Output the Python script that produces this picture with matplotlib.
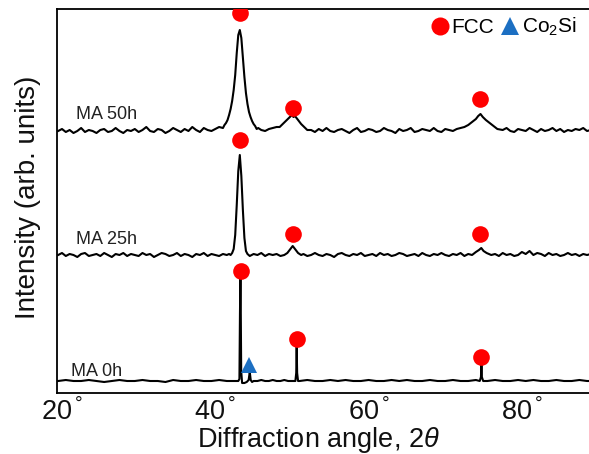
import matplotlib
matplotlib.use("Agg")
import matplotlib.pyplot as plt
from matplotlib.lines import Line2D

plt.rcParams["font.family"] = ["Liberation Sans", "DejaVu Sans"]
plt.rcParams["mathtext.fontset"] = "custom"
plt.rcParams["mathtext.rm"] = "Liberation Sans"
plt.rcParams["mathtext.it"] = "Liberation Sans:italic"

# --- data (2theta in degrees, intensity in arb. units) ---
ma50_angle = [
    19.5, 20.0, 20.5, 21.0, 21.5, 22.0, 22.5, 23.0, 23.5, 24.0,
    24.5, 25.0, 25.5, 26.0, 26.5, 27.0, 27.5, 28.0, 28.5, 29.0,
    29.5, 30.0, 30.5, 31.0, 31.5, 32.0, 32.5, 33.0, 33.5, 34.0,
    34.5, 35.0, 35.5, 36.0, 36.5, 37.0, 37.5, 38.0, 38.5, 39.0,
    39.5, 40.0, 40.5, 41.0,
    41.2, 41.4, 41.6, 41.8, 42.0, 42.2, 42.4, 42.6, 42.8, 43.0,
    43.2, 43.4, 43.6, 43.8, 44.0, 44.2, 44.4, 44.6, 44.8, 45.0,
    45.2, 45.4, 45.6,
    46.0, 46.5, 47.0, 47.5, 48.0,
    48.4, 48.8, 49.2, 49.6, 50.0, 50.2, 50.4, 50.8, 51.2, 51.6, 52.0,
    52.5, 53.0, 53.5, 54.0, 54.5, 55.0, 55.5, 56.0, 56.5, 57.0,
    57.5, 58.0, 58.5, 59.0, 59.5, 60.0, 60.5, 61.0, 61.5, 62.0,
    62.5, 63.0, 63.5, 64.0, 64.5, 65.0, 65.5, 66.0, 66.5, 67.0,
    67.5, 68.0, 68.5, 69.0, 69.5, 70.0, 70.5, 71.0, 71.5, 72.0,
    72.5, 73.0, 73.5, 74.0, 74.3, 74.6, 74.9, 75.3, 75.8, 76.3, 76.8,
    77.5, 78.0, 78.5, 79.0, 79.5, 80.0, 80.5, 81.0, 81.5, 82.0,
    82.5, 83.0, 83.5, 84.0, 84.5, 85.0, 85.5, 86.0, 86.5, 87.0,
    87.5, 88.0, 88.5, 89.0,
]
ma50_counts = [
    262, 264, 261, 263, 260, 262, 265, 261, 263, 262,
    260, 263, 264, 261, 262, 265, 262, 260, 263, 262,
    264, 261, 263, 266, 262, 261, 264, 263, 260, 262,
    265, 263, 261, 264, 262, 266, 263, 261, 265, 263,
    262, 264, 266, 265,
    268, 270, 273, 278, 284, 292, 303, 318, 340, 358,
    363, 355, 336, 316, 300, 289, 281, 276, 272, 269,
    267, 264, 265,
    263, 262, 264, 265, 266,
    266, 269, 272, 275, 278, 276, 277, 273, 269, 266, 263,
    263, 261, 264, 262, 265, 262, 261, 263, 264, 262,
    260, 263, 265, 261, 262, 264, 263, 261, 262, 265,
    263, 262, 260, 264, 262, 263, 265, 261, 262, 264,
    263, 262, 265, 262, 261, 264, 263, 262, 264, 265,
    266, 268, 271, 274, 277, 279, 276, 273, 270, 267, 264,
    263, 265, 262, 261, 264, 263, 262, 265, 263, 261,
    264, 262, 263, 265, 262, 264, 261, 263, 262, 264,
    263, 265, 262, 263,
]

ma25_angle = [
    19.5, 20.0, 20.5, 21.0, 21.5, 22.0, 22.5, 23.0, 23.5, 24.0,
    24.5, 25.0, 25.5, 26.0, 26.5, 27.0, 27.5, 28.0, 28.5, 29.0,
    29.5, 30.0, 30.5, 31.0, 31.5, 32.0, 32.5, 33.0, 33.5, 34.0,
    34.5, 35.0, 35.5, 36.0, 36.5, 37.0, 37.5, 38.0, 38.5, 39.0,
    39.5, 40.0, 40.5, 41.0, 41.5,
    41.8, 42.0, 42.2, 42.4, 42.6, 42.8, 43.0, 43.2, 43.4, 43.6,
    43.8, 44.0, 44.2,
    44.5, 45.0, 45.5, 46.0, 46.5, 47.0, 47.5, 48.0, 48.5, 49.0,
    49.4, 49.8, 50.1, 50.4, 50.8, 51.2,
    51.5, 52.0, 52.5, 53.0, 53.5, 54.0, 54.5, 55.0, 55.5, 56.0,
    56.5, 57.0, 57.5, 58.0, 58.5, 59.0, 59.5, 60.0, 60.5, 61.0,
    61.5, 62.0, 62.5, 63.0, 63.5, 64.0, 64.5, 65.0, 65.5, 66.0,
    66.5, 67.0, 67.5, 68.0, 68.5, 69.0, 69.5, 70.0, 70.5, 71.0,
    71.5, 72.0, 72.5, 73.0, 73.5,
    74.0, 74.4, 74.7, 75.0, 75.4,
    76.0, 76.5, 77.0, 77.5, 78.0, 78.5, 79.0, 79.5, 80.0, 80.5,
    81.0, 81.5, 82.0, 82.5, 83.0, 83.5, 84.0, 84.5, 85.0, 85.5,
    86.0, 86.5, 87.0, 87.5, 88.0, 88.5, 89.0,
]
ma25_counts = [
    138, 140, 137, 139, 138, 136, 139, 140, 137, 138,
    139, 137, 140, 138, 136, 139, 138, 140, 137, 139,
    138, 137, 140, 138, 139, 136, 138, 140, 139, 137,
    138, 140, 137, 139, 138, 136, 139, 138, 140, 137,
    139, 138, 137, 139, 138,
    139, 138, 140, 144, 158, 188, 222, 238, 217, 183,
    155, 142, 139,
    137, 139, 138, 140, 137, 139, 138, 139, 137, 138,
    140, 144, 147, 144, 140, 138,
    139, 137, 138, 140, 138, 137, 139, 138, 136, 139,
    140, 138, 137, 139, 138, 140, 137, 138, 139, 137,
    140, 138, 139, 137, 138, 140, 139, 137, 138, 139,
    137, 140, 138, 137, 139, 138, 140, 138, 137, 139,
    138, 140, 137, 139, 138,
    141, 143, 145, 142, 140,
    138, 139, 137, 140, 138, 139, 137, 138, 141, 139,
    142, 138, 140, 139, 137, 140, 138, 139, 137, 138,
    140, 138, 139, 137, 139, 138, 139,
]

ma0_angle = [
    19.5, 20.5, 21.5, 22.5, 23.5, 24.5, 25.5, 26.5, 27.5, 28.5,
    29.5, 30.5, 31.5, 32.5, 33.5, 34.5, 35.5, 36.5, 37.5, 38.5,
    39.5, 40.5, 41.5, 42.5,
    43.0, 43.15, 43.22, 43.28, 43.33, 43.38, 43.5, 43.8, 44.1, 44.35,
    44.5, 44.62, 44.8, 45.0,
    45.5, 46.0, 46.5, 47.0, 47.5, 48.0, 48.5, 49.0, 49.5, 50.0,
    50.45, 50.56, 50.62, 50.68, 50.8,
    51.0, 52.0, 53.0, 54.0, 55.0, 56.0, 57.0, 58.0, 59.0, 60.0,
    61.0, 62.0, 63.0, 64.0, 65.0, 66.0, 67.0, 68.0, 69.0, 70.0,
    71.0, 72.0, 73.0, 74.0,
    74.5, 74.66, 74.72, 74.78, 74.95,
    75.5, 76.5, 77.5, 78.5, 79.5, 80.5, 81.5, 82.5, 83.5, 84.5,
    85.5, 86.5, 87.5, 88.5, 89.5,
]
ma0_counts = [
    12, 13, 12, 12, 13, 12, 11, 12, 13, 12,
    12, 13, 12, 12, 11, 13, 12, 12, 13, 12,
    12, 13, 12, 12,
    12, 14, 80, 116, 78, 22, 10, 10, 11, 13,
    21, 13, 11, 12,
    12, 13, 12, 12, 13, 12, 12, 13, 12, 12,
    12, 20, 46, 20, 12,
    12, 13, 12, 12, 13, 12, 13, 12, 12, 13,
    12, 12, 13, 12, 13, 12, 12, 13, 12, 12,
    13, 12, 12, 13,
    12, 16, 29, 16, 12,
    12, 13, 12, 12, 13, 12, 13, 12, 12, 13,
    12, 12, 13, 12, 12,
]

# phase markers
fcc_angle = [43.2, 50.2, 74.6, 43.2, 50.2, 74.6, 43.3, 50.6, 74.7]
fcc_height = [380, 285, 294, 253, 159, 159, 122, 54, 36]
co2si_angle = [44.4]
co2si_height = [28]

sample_labels = ["MA 50h", "MA 25h", "MA 0h"]
xticks = [20, 40, 60, 80]

RED = "#ff0000"
BLUE = "#1c6fc2"

fig = plt.figure(figsize=(5.89, 4.54), dpi=100)
ax = fig.add_axes([57 / 589, 61 / 454, 540 / 589, 384 / 454])

for angle, counts in [(ma50_angle, ma50_counts), (ma25_angle, ma25_counts), (ma0_angle, ma0_counts)]:
    ax.plot(angle, counts, color="black", lw=1.5, zorder=2)

ax.plot(fcc_angle, fcc_height, "o", color=RED, ms=12, mew=0, zorder=3)
ax.plot(co2si_angle, co2si_height, "^", color=BLUE, ms=11, mew=0, zorder=3)

ax.set_xlim(19.35, 89.8)
ax.set_ylim(0, 384)
ax.set_yticks([])
ax.set_xticks(xticks)
ax.set_xticklabels([f"{v}$^{{\\,°}}$" for v in xticks])
ax.tick_params(axis="x", length=0, pad=3, labelsize=19.5, labelcolor="#111111")
ax.spines["right"].set_visible(False)
for s in ["left", "top", "bottom"]:
    ax.spines[s].set_linewidth(1.3)

label_x = [0.035, 0.035, 0.026]
label_y = [0.724, 0.401, 0.056]
for lab, xx, yy in zip(sample_labels, label_x, label_y):
    ax.text(xx, yy, lab, transform=ax.transAxes, ha="left", va="center",
            fontsize=13, color="#222222")

handles = [
    Line2D([], [], marker="o", color=RED, ls="none", ms=13, mew=0),
    Line2D([], [], marker="^", color=BLUE, ls="none", ms=13, mew=0),
]
ax.legend(handles, ["FCC", "Co$_2$Si"], ncol=2, frameon=False,
          loc="center left", bbox_to_anchor=(0.690, 0.953),
          borderpad=0, borderaxespad=0, handlelength=1.0,
          handletextpad=0.05, columnspacing=0.27, fontsize=15)

fig.text(318 / 589, 1 - 440 / 454, "Diffraction angle, 2$\\theta$",
         ha="center", va="center", fontsize=19.5, color="#111111")
fig.text(28 / 589, 1 - 197 / 454, "Intensity (arb. units)", rotation=90,
         ha="center", va="center", fontsize=20, color="#111111")

fig.savefig("out.png", dpi=100)
